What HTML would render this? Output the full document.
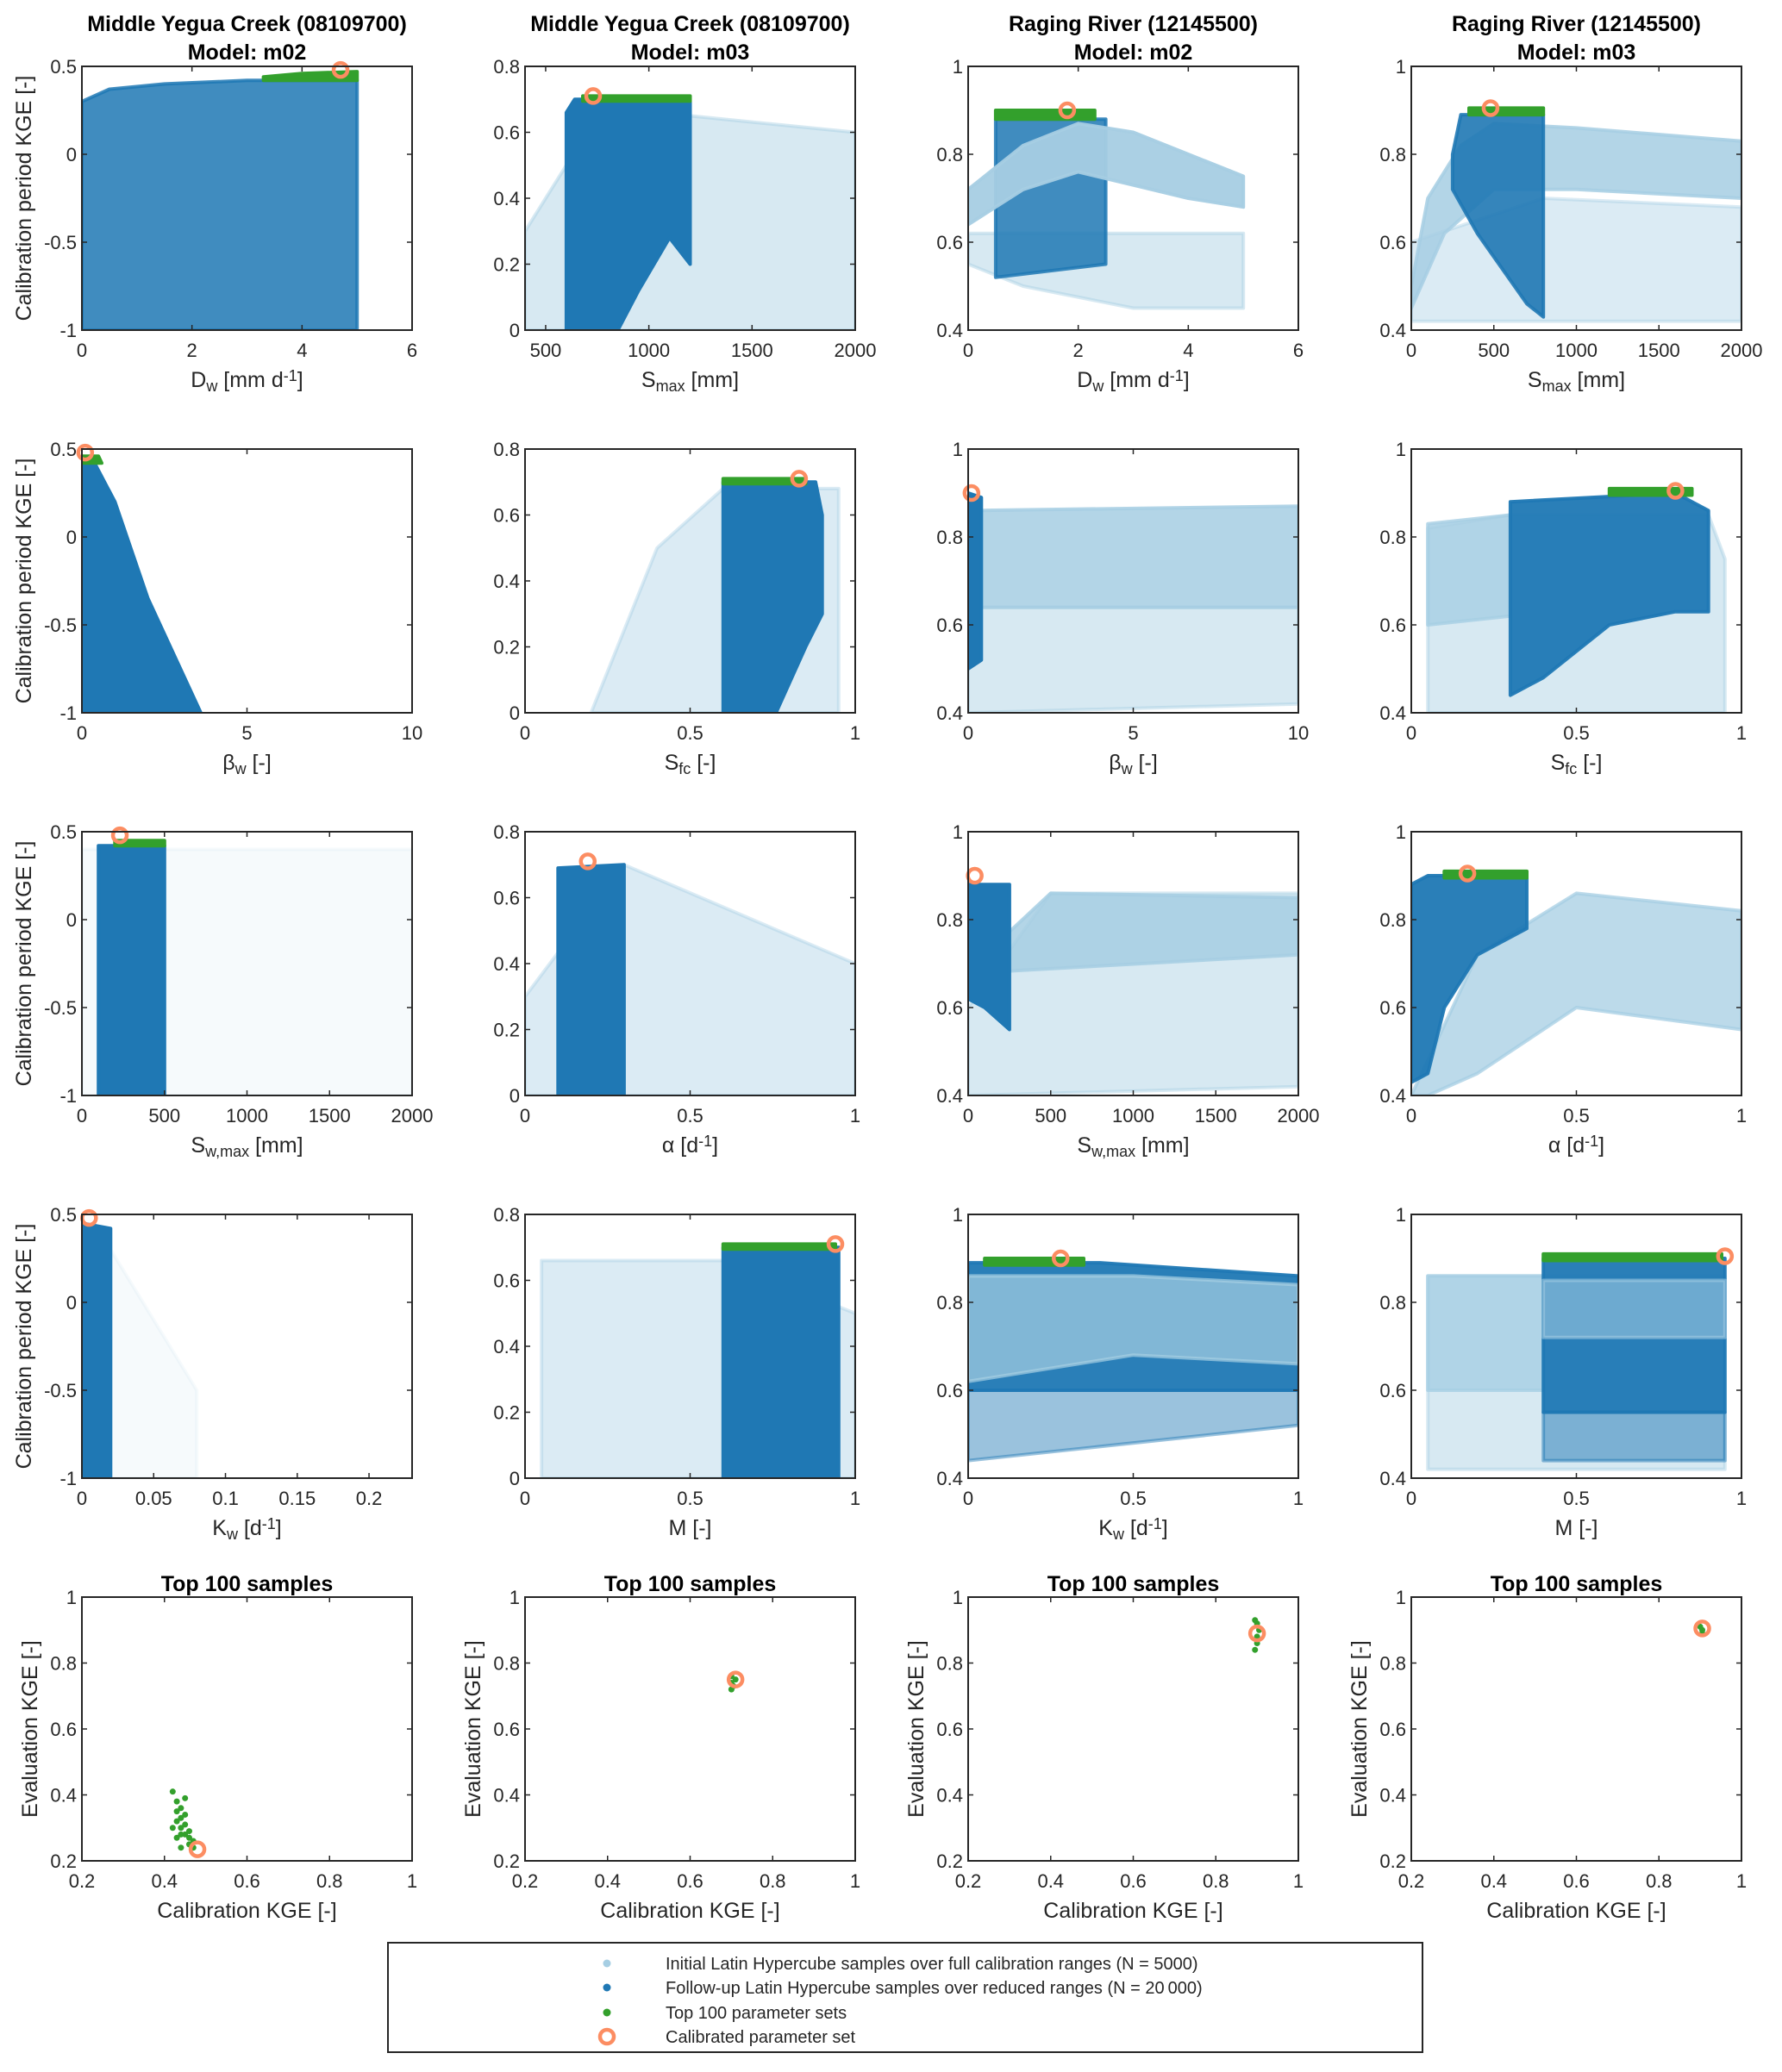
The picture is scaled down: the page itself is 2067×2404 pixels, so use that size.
<!DOCTYPE html>
<html><head><meta charset="utf-8"><style>
html,body{margin:0;padding:0;background:#fff;}
svg{display:block;font-family:"Liberation Sans",Arial,sans-serif;}
</style></head><body>
<svg id="fig" width="2067" height="2404" viewBox="0 0 2067 2404" xmlns="http://www.w3.org/2000/svg"></svg>
<script>
// ---- layout ----
const colLeft=[95,609,1123,1637], rowTop=[77,521,965,1409,1853], PW=383, PH=306;
// ---- axis ranges and ticks ----
const xRanges=[[0,6],[400,2000],[0,6],[0,2000],[0,10],[0,1],[0,10],[0,1],[0,2000],[0,1],[0,2000],[0,1],[0,0.23],[0,1],[0,1],[0,1],[0.2,1],[0.2,1],[0.2,1],[0.2,1]];
const yRanges=[[-1,0.5],[0,0.8],[0.4,1],[0.4,1],[-1,0.5],[0,0.8],[0.4,1],[0.4,1],[-1,0.5],[0,0.8],[0.4,1],[0.4,1],[-1,0.5],[0,0.8],[0.4,1],[0.4,1],[0.2,1],[0.2,1],[0.2,1],[0.2,1]];
const xTicks=[[0,2,4,6],[500,1000,1500,2000],[0,2,4,6],[0,500,1000,1500,2000],[0,5,10],[0,0.5,1],[0,5,10],[0,0.5,1],[0,500,1000,1500,2000],[0,0.5,1],[0,500,1000,1500,2000],[0,0.5,1],[0,0.05,0.1,0.15,0.2],[0,0.5,1],[0,0.5,1],[0,0.5,1],[0.2,0.4,0.6,0.8,1],[0.2,0.4,0.6,0.8,1],[0.2,0.4,0.6,0.8,1],[0.2,0.4,0.6,0.8,1]];
const yTicksA=[-1,-0.5,0,0.5], yTicksB=[0,0.2,0.4,0.6,0.8], yTicksC=[0.4,0.6,0.8,1], yTicksD=[0.2,0.4,0.6,0.8,1];
const yTicks=[yTicksA,yTicksB,yTicksC,yTicksC,yTicksA,yTicksB,yTicksC,yTicksC,yTicksA,yTicksB,yTicksC,yTicksC,yTicksA,yTicksB,yTicksC,yTicksC,yTicksD,yTicksD,yTicksD,yTicksD];
// ---- x labels ----
const lDw=[["D","n"],["w","sub"],[" [mm d","n"],["-1","sup"],["]","n"]];
const lSmax=[["S","n"],["max","sub"],[" [mm]","n"]];
const lBw=[["\u03B2","n"],["w","sub"],[" [-]","n"]];
const lSfc=[["S","n"],["fc","sub"],[" [-]","n"]];
const lSw=[["S","n"],["w,max","sub"],[" [mm]","n"]];
const lAl=[["\u03B1 [d","n"],["-1","sup"],["]","n"]];
const lKw=[["K","n"],["w","sub"],[" [d","n"],["-1","sup"],["]","n"]];
const lM=[["M [-]","n"]];
const lCal=[["Calibration KGE [-]","n"]];
const xLabels=[lDw,lSmax,lDw,lSmax,lBw,lSfc,lBw,lSfc,lSw,lAl,lSw,lAl,lKw,lM,lKw,lM,lCal,lCal,lCal,lCal];
const titles1=["Middle Yegua Creek (08109700)","Middle Yegua Creek (08109700)","Raging River (12145500)","Raging River (12145500)"];
const titles2=["Model: m02","Model: m03","Model: m02","Model: m03"];
// ---- point-cloud envelopes (data coordinates) ----
const p0_dark=[[0,-1],[0,0.3],[0.5,0.37],[1.5,0.4],[3,0.42],[5,0.42],[5,-1]];
const p0_green=[[3.3,0.42],[5,0.42],[5,0.47],[4,0.46],[3.3,0.44]];
const p1_light=[[400,0],[400,0.3],[600,0.5],[1200,0.65],[2000,0.6],[2000,0]];
const p1_dark=[[600,0],[600,0.66],[640,0.7],[1200,0.7],[1200,0.2],[1100,0.28],[950,0.12],[850,0]];
const p1_green=[[680,0.695],[1200,0.695],[1200,0.71],[680,0.71]];
const p2_dark=[[0.5,0.52],[0.5,0.88],[2.5,0.88],[2.5,0.55]];
const p2_lightSparse=[[0,0.62],[5,0.62],[5,0.45],[3,0.45],[1,0.5],[0,0.55]];
const p2_light=[[0,0.72],[1,0.82],[2,0.87],[3,0.85],[4,0.8],[5,0.75],[5,0.68],[4,0.7],[3,0.73],[2,0.76],[1,0.72],[0,0.64]];
const p2_green=[[0.5,0.88],[2.3,0.88],[2.3,0.9],[0.5,0.9]];
const p3_lightSparse=[[0,0.45],[0,0.6],[800,0.7],[2000,0.68],[2000,0.42],[0,0.42]];
const p3_light=[[0,0.5],[100,0.7],[300,0.82],[500,0.87],[1000,0.86],[2000,0.83],[2000,0.7],[1000,0.72],[500,0.72],[200,0.62],[0,0.45]];
const p3_dark=[[250,0.8],[300,0.89],[800,0.89],[800,0.43],[700,0.46],[400,0.62],[250,0.72]];
const p3_green=[[350,0.89],[800,0.89],[800,0.905],[350,0.905]];
const p4_dark=[[0,-1],[0,0.42],[0.3,0.45],[1,0.2],[2,-0.35],[3.6,-1]];
const p4_green=[[0,0.42],[0.6,0.42],[0.5,0.46],[0,0.46]];
const p5_light=[[0.2,0],[0.4,0.5],[0.6,0.68],[0.95,0.68],[0.95,0]];
const p5_dark=[[0.6,0],[0.6,0.7],[0.88,0.7],[0.9,0.6],[0.9,0.3],[0.85,0.2],[0.76,0]];
const p5_green=[[0.6,0.695],[0.85,0.695],[0.85,0.71],[0.6,0.71]];
const p6_light=[[0,0.4],[0,0.64],[10,0.64],[10,0.42]];
const p6_lightDense=[[0,0.64],[0,0.86],[10,0.87],[10,0.64]];
const p6_dark=[[0,0.5],[0,0.9],[0.4,0.89],[0.4,0.52]];
const p7_light=[[0.05,0.4],[0.05,0.82],[0.3,0.85],[0.9,0.85],[0.95,0.75],[0.95,0.4]];
const p7_lightDense=[[0.05,0.6],[0.05,0.83],[0.3,0.85],[0.3,0.62]];
const p7_dark=[[0.3,0.44],[0.3,0.88],[0.8,0.9],[0.9,0.86],[0.9,0.63],[0.8,0.63],[0.6,0.6],[0.4,0.48]];
const p7_green=[[0.6,0.895],[0.85,0.895],[0.85,0.91],[0.6,0.91]];
const p8_light=[[0,-1],[0,0.4],[2000,0.4],[2000,-1]];
const p8_dark=[[100,-1],[100,0.42],[500,0.42],[500,-1]];
const p8_green=[[200,0.42],[500,0.42],[500,0.45],[200,0.45]];
const p9_light=[[0,0.3],[0.3,0.7],[1,0.4],[1,0],[0,0]];
const p9_dark=[[0.1,0],[0.1,0.69],[0.3,0.7],[0.3,0]];
const p10_light=[[0,0.6],[500,0.86],[2000,0.86],[2000,0.42],[0,0.4]];
const p10_lightDense=[[100,0.72],[500,0.86],[2000,0.85],[2000,0.72],[100,0.68]];
const p10_dark=[[0,0.62],[0,0.88],[250,0.88],[250,0.55],[100,0.6]];
const p11_light=[[0,0.4],[0.2,0.72],[0.5,0.86],[1,0.82],[1,0.55],[0.5,0.6],[0.2,0.45],[0.05,0.4]];
const p11_dark=[[0,0.43],[0,0.88],[0.05,0.9],[0.35,0.9],[0.35,0.78],[0.2,0.72],[0.1,0.6],[0.05,0.45]];
const p11_green=[[0.1,0.895],[0.35,0.895],[0.35,0.91],[0.1,0.91]];
const p12_light=[[0,-1],[0,0.3],[0.02,0.3],[0.08,-0.5],[0.08,-1]];
const p12_dark=[[0,-1],[0,0.45],[0.02,0.42],[0.02,-1]];
const p13_light=[[0.05,0],[0.05,0.66],[0.6,0.66],[1,0.5],[1,0]];
const p13_dark=[[0.6,0],[0.6,0.7],[0.95,0.7],[0.95,0]];
const p13_green=[[0.6,0.695],[0.94,0.695],[0.94,0.71],[0.6,0.71]];
const p14_dark=[[0,0.6],[0,0.89],[0.4,0.89],[1,0.86],[1,0.6]];
const p14_darkSparse=[[0,0.44],[0,0.6],[1,0.6],[1,0.52]];
const p14_light=[[0,0.62],[0,0.86],[0.5,0.86],[1,0.84],[1,0.66],[0.5,0.68]];
const p14_green=[[0.05,0.885],[0.35,0.885],[0.35,0.9],[0.05,0.9]];
const p15_light=[[0.05,0.42],[0.05,0.86],[0.95,0.86],[0.95,0.42]];
const p15_lightDense=[[0.05,0.6],[0.05,0.86],[0.4,0.86],[0.4,0.6]];
const p15_dark=[[0.4,0.55],[0.4,0.9],[0.95,0.9],[0.95,0.55]];
const p15_darkSparse=[[0.4,0.44],[0.4,0.55],[0.95,0.55],[0.95,0.44]];
const p15_lightOver=[[0.4,0.72],[0.4,0.85],[0.95,0.85],[0.95,0.72]];
const p15_green=[[0.4,0.895],[0.94,0.895],[0.94,0.91],[0.4,0.91]];
// ---- top-100 scatter (row 5) ----
const top1X=[0.42,0.43,0.43,0.44,0.44,0.45,0.45,0.46,0.46,0.47,0.43,0.44,0.45,0.42,0.46,0.44,0.43,0.45,0.47,0.44];
const top1Y=[0.41,0.38,0.35,0.33,0.3,0.31,0.28,0.27,0.25,0.26,0.32,0.36,0.34,0.3,0.29,0.24,0.27,0.39,0.24,0.28];
const top2X=[0.7,0.7,0.71,0.7,0.705];
const top2Y=[0.72,0.74,0.75,0.76,0.73];
const top3X=[0.895,0.9,0.9,0.905,0.9,0.895];
const top3Y=[0.84,0.86,0.88,0.9,0.92,0.93];
const top4X=[0.905,0.905,0.9];
const top4Y=[0.89,0.9,0.91];
// ---- calibrated parameter set ----
const calX=[4.7,730,1.8,480,0.1,0.83,0.1,0.8,230,0.19,40,0.17,0.005,0.94,0.28,0.95,0.48,0.71,0.9,0.905];
const calY=[0.48,0.71,0.9,0.905,0.48,0.71,0.9,0.905,0.48,0.71,0.9,0.905,0.48,0.71,0.9,0.905,0.235,0.75,0.89,0.905];

const NS="http://www.w3.org/2000/svg";
const svg=document.getElementById('fig');
const LB="#a6cee3", DB="#1f78b4", GR="#33a02c", OR="#fc8d62", AX="#262626";
function mk(tag,attrs,parent){const e=document.createElementNS(NS,tag);for(const k in attrs)e.setAttribute(k,attrs[k]);(parent||svg).appendChild(e);return e;}
function sx(i,v){const r=xRanges[i];return colLeft[i%4]+(v-r[0])/(r[1]-r[0])*PW;}
function sy(i,v){const r=yRanges[i];return rowTop[Math.floor(i/4)]+PH-(v-r[0])/(r[1]-r[0])*PH;}
function fmt(v){return v<0?"-"+String(-v):String(v);}

const groups=[];
for(let i=0;i<20;i++){
  const g=mk('g',{});
  
  
  const cp=mk('clipPath',{id:'cp'+i},g);
  mk('rect',{x:colLeft[i%4],y:rowTop[Math.floor(i/4)],width:PW,height:PH},cp);
  const plot=mk('g',{'clip-path':'url(#cp'+i+')'},g);
  groups.push(plot);
}
function poly(i,pts,color,op,name){
  const d=pts.map(p=>sx(i,p[0]).toFixed(1)+','+sy(i,p[1]).toFixed(1)).join(' ');
  const e=mk('polygon',{points:d,fill:color,'fill-opacity':op,stroke:color,'stroke-opacity':op,'stroke-width':4,'stroke-linejoin':'round'},groups[i]);
  
  
}
poly(0,p0_dark,DB,0.85,'follow-up-samples');poly(0,p0_green,GR,1,'top-100-samples');
poly(1,p1_light,LB,0.45,'initial-samples');poly(1,p1_dark,DB,1,'follow-up-samples');poly(1,p1_green,GR,1,'top-100-samples');
poly(2,p2_lightSparse,LB,0.45,'initial-samples-sparse');poly(2,p2_dark,DB,0.85,'follow-up-samples');poly(2,p2_light,LB,0.95,'initial-samples');poly(2,p2_green,GR,1,'top-100-samples');
poly(3,p3_lightSparse,LB,0.4,'initial-samples-sparse');poly(3,p3_light,LB,0.85,'initial-samples');poly(3,p3_dark,DB,0.9,'follow-up-samples');poly(3,p3_green,GR,1,'top-100-samples');
poly(4,p4_dark,DB,1,'follow-up-samples');poly(4,p4_green,GR,1,'top-100-samples');
poly(5,p5_light,LB,0.4,'initial-samples');poly(5,p5_dark,DB,1,'follow-up-samples');poly(5,p5_green,GR,1,'top-100-samples');
poly(6,p6_light,LB,0.45,'initial-samples');poly(6,p6_lightDense,LB,0.85,'initial-samples-dense');poly(6,p6_dark,DB,1,'follow-up-samples');
poly(7,p7_light,LB,0.45,'initial-samples');poly(7,p7_lightDense,LB,0.8,'initial-samples-dense');poly(7,p7_dark,DB,0.95,'follow-up-samples');poly(7,p7_green,GR,1,'top-100-samples');
poly(8,p8_light,LB,0.1,'initial-samples');poly(8,p8_dark,DB,1,'follow-up-samples');poly(8,p8_green,GR,1,'top-100-samples');
poly(9,p9_light,LB,0.4,'initial-samples');poly(9,p9_dark,DB,1,'follow-up-samples');
poly(10,p10_light,LB,0.45,'initial-samples');poly(10,p10_lightDense,LB,0.85,'initial-samples-dense');poly(10,p10_dark,DB,1,'follow-up-samples');
poly(11,p11_light,LB,0.75,'initial-samples');poly(11,p11_dark,DB,0.95,'follow-up-samples');poly(11,p11_green,GR,1,'top-100-samples');
poly(12,p12_light,LB,0.1,'initial-samples');poly(12,p12_dark,DB,1,'follow-up-samples');
poly(13,p13_light,LB,0.4,'initial-samples');poly(13,p13_dark,DB,1,'follow-up-samples');poly(13,p13_green,GR,1,'top-100-samples');
poly(14,p14_darkSparse,DB,0.45,'follow-up-samples-sparse');poly(14,p14_dark,DB,0.95,'follow-up-samples');poly(14,p14_light,LB,0.7,'initial-samples');poly(14,p14_green,GR,1,'top-100-samples');
poly(15,p15_light,LB,0.45,'initial-samples');poly(15,p15_lightDense,LB,0.8,'initial-samples-dense');poly(15,p15_darkSparse,DB,0.5,'follow-up-samples-sparse');poly(15,p15_dark,DB,0.95,'follow-up-samples');poly(15,p15_lightOver,LB,0.55,'initial-samples-overlay');poly(15,p15_green,GR,1,'top-100-samples');
const topX=[top1X,top2X,top3X,top4X], topY=[top1Y,top2Y,top3Y,top4Y];
for(let c=0;c<4;c++){const i=16+c;for(let k=0;k<topX[c].length;k++){
  const e=mk('circle',{cx:sx(i,topX[c][k]),cy:sy(i,topY[c][k]),r:3.5,fill:GR},groups[i]);
  
  
}}
for(let i=0;i<20;i++){
  const e=mk('circle',{cx:sx(i,calX[i]),cy:sy(i,calY[i]),r:8,fill:'none',stroke:OR,'stroke-width':4.5});
  
  
}
for(let i=0;i<20;i++){
  const c=i%4,r=Math.floor(i/4),L=colLeft[c],T=rowTop[r];
  const box=mk('rect',{x:L,y:T,width:PW,height:PH,fill:'none',stroke:AX,'stroke-width':2});
  
  
  xTicks[i].forEach(v=>{const x=sx(i,v);
    mk('line',{x1:x,x2:x,y1:T+PH,y2:T+PH-6,stroke:AX,'stroke-width':1.5});
    mk('line',{x1:x,x2:x,y1:T,y2:T+6,stroke:AX,'stroke-width':1.5});
    const t=mk('text',{x:x,y:T+PH+31,'text-anchor':'middle','font-size':22,fill:AX});t.textContent=fmt(v);
    
    });
  yTicks[i].forEach(v=>{const y=sy(i,v);
    mk('line',{x1:L,x2:L+6,y1:y,y2:y,stroke:AX,'stroke-width':1.5});
    mk('line',{x1:L+PW,x2:L+PW-6,y1:y,y2:y,stroke:AX,'stroke-width':1.5});
    const t=mk('text',{x:L-6,y:y+8,'text-anchor':'end','font-size':22,fill:AX});t.textContent=fmt(v);
    
    });
  const xl=mk('text',{x:L+PW/2,y:T+PH+66,'text-anchor':'middle','font-size':25,fill:AX});
  
  
  xLabels[i].forEach(p=>{const ts=mk('tspan',{},xl);ts.textContent=p[0];
    if(p[1]==='sub'){ts.setAttribute('baseline-shift','-30%');ts.setAttribute('font-size',18);}
    if(p[1]==='sup'){ts.setAttribute('baseline-shift','40%');ts.setAttribute('font-size',18);}});
  if(r===4||c===0){
    const yl=mk('text',{x:0,y:0,'text-anchor':'middle','font-size':25,fill:AX,transform:'translate('+(r===4?L-52:36)+','+(T+PH/2)+') rotate(-90)'});
    yl.textContent=r===4?'Evaluation KGE [-]':'Calibration period KGE [-]';
    
    
  }
}
for(let c=0;c<4;c++){
  const cx=colLeft[c]+PW/2;
  const t1=mk('text',{x:cx,y:36,'text-anchor':'middle','font-size':25,'font-weight':'bold',fill:'#000'});t1.textContent=titles1[c];
  
  
  const t2=mk('text',{x:cx,y:69,'text-anchor':'middle','font-size':25,'font-weight':'bold',fill:'#000'});t2.textContent=titles2[c];
  
  
  const t3=mk('text',{x:cx,y:1846,'text-anchor':'middle','font-size':25,'font-weight':'bold',fill:'#000'});t3.textContent='Top 100 samples';
  
  
}
const legTexts=["Initial Latin Hypercube samples over full calibration ranges (N = 5000)","Follow-up Latin Hypercube samples over reduced ranges (N = 20\u2009000)","Top 100 parameter sets","Calibrated parameter set"];
const legY=[2278,2306,2335,2363];
const lg=mk('g',{});


mk('rect',{x:450,y:2254,width:1200,height:127,fill:'#fff',stroke:AX,'stroke-width':2},lg);
const legCol=[LB,DB,GR];
for(let k=0;k<4;k++){
  let m;
  if(k<3){m=mk('circle',{cx:704,cy:legY[k],r:4.5,fill:legCol[k]},lg);}
  else{m=mk('circle',{cx:704,cy:legY[k],r:8,fill:'none',stroke:OR,'stroke-width':4.5},lg);}
  
  
  const t=mk('text',{x:772,y:legY[k]+7,'font-size':20,fill:AX},lg);t.textContent=legTexts[k];
  
  
}
</script>
</body></html>
